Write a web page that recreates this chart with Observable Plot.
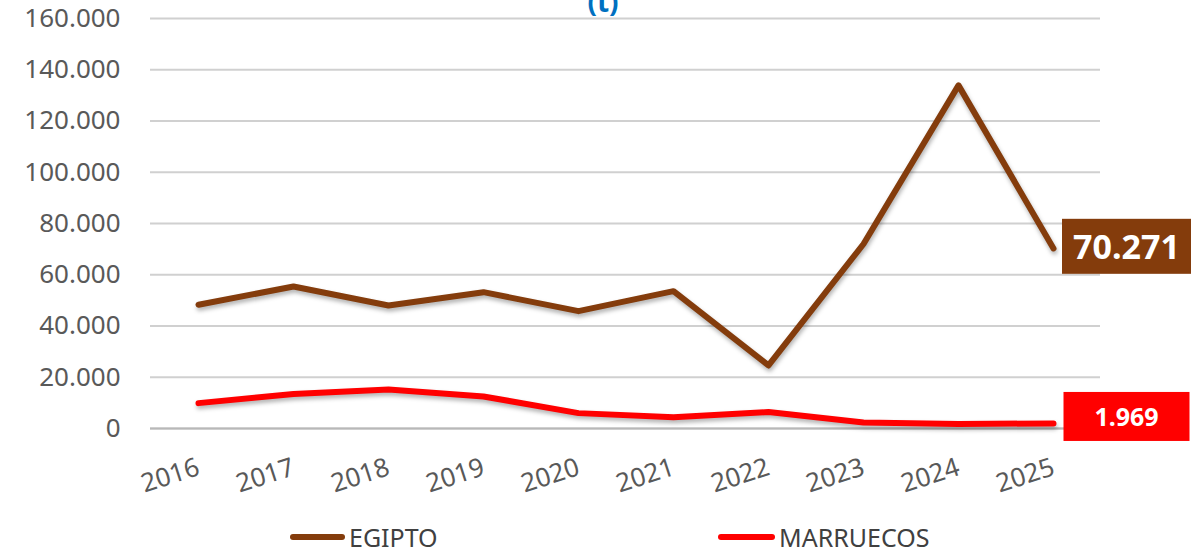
<!DOCTYPE html>
<html>
<head>
<meta charset="utf-8">
<script src="https://cdn.jsdelivr.net/npm/d3@7"></script>
<script src="https://cdn.jsdelivr.net/npm/@observablehq/plot@0.6"></script>
<style>
  html, body { margin: 0; padding: 0; background: #fff; width: 1204px; height: 552px; overflow: hidden; font-family: "Noto Sans", sans-serif; }
  #title { position: absolute; top: -13px; left: 0; width: 1206px; text-align: center; color: #0070C0; font-weight: bold; font-size: 28px; line-height: 28px; z-index: 2; }
  #chart { position: absolute; top: 0; left: 0; }
  #chart svg { background: transparent !important; }
  #legend { position: absolute; top: 520px; left: 0; width: 1204px; height: 32px; font-size: 25px; color: #404040; }
  .item { position: absolute; top: 0; display: flex; align-items: center; height: 34px; }
  .sw { height: 6px; border-radius: 3px; margin-right: 4px; }
  g[aria-label="line"] path { filter: drop-shadow(1px 3px 2px rgba(0,0,0,0.3)); }
</style>
</head>
<body>
<div id="title">(t)</div>
<div id="chart"></div>
<div id="legend"></div>
<script>
const years = ["2016","2017","2018","2019","2020","2021","2022","2023","2024","2025"];
const egipto = [48300, 55400, 48000, 53200, 45800, 53600, 24600, 72000, 133900, 70271];
const marruecos = [9900, 13500, 15200, 12500, 6000, 4400, 6400, 2300, 1800, 1969];
const seriesNames = ["EGIPTO", "MARRUECOS"];
const seriesColors = ["#843C0C", "#FF0000"];
const yTicks = [0, 20000, 40000, 60000, 80000, 100000, 120000, 140000, 160000];

const locale = d3.formatLocale({decimal: ",", thousands: ".", grouping: [3], currency: ["", " €"]});
const fmt = locale.format(",d");

const rows = [];
years.forEach((yr, i) => {
  rows.push({year: yr, value: egipto[i], serie: seriesNames[0]});
  rows.push({year: yr, value: marruecos[i], serie: seriesNames[1]});
});
const lastEg = [{year: years[years.length-1], value: egipto[egipto.length-1]}];
const lastMa = [{year: years[years.length-1], value: marruecos[marruecos.length-1]}];

const chart = Plot.plot({
  width: 1204,
  height: 510,
  marginLeft: 150,
  marginRight: 104,
  marginTop: 18,
  marginBottom: 82,
  style: {fontFamily: "Noto Sans, sans-serif", background: "transparent"},
  x: {type: "point", domain: years, padding: 0.5},
  y: {domain: [0, 160000]},
  color: {domain: seriesNames, range: seriesColors},
  marks: [
    Plot.gridY(yTicks, {stroke: "#d0d0d0", strokeOpacity: 1, strokeWidth: 2}),
    Plot.ruleY([0], {stroke: "#b8b8b8", strokeWidth: 2}),
    Plot.axisY(yTicks, {tickSize: 0, tickPadding: 30, tickFormat: fmt, fontSize: 26, fill: "#595959", label: null}),
    Plot.axisX({tickSize: 0, tickPadding: 38, tickRotate: -18, textAnchor: "end", fontSize: 26, fill: "#595959", label: null}),
    Plot.line(rows, {x: "year", y: "value", z: "serie", stroke: "serie", strokeWidth: 6, strokeLinecap: "round", strokeLinejoin: "round"}),
    Plot.text(lastEg, {x: "year", y: "value", text: d => fmt(d.value), dx: 73, dy: 0, fill: "white", fontWeight: "bold", fontSize: 34, textAnchor: "middle"}),
    Plot.text(lastMa, {x: "year", y: "value", text: d => fmt(d.value), dx: 73, dy: -5, fill: "white", fontWeight: "bold", fontSize: 25, textAnchor: "middle"})
  ]
});
document.getElementById("chart").appendChild(chart);

// label boxes behind the end labels
const boxSpecs = [{w: 129, h: 55, fill: seriesColors[0]}, {w: 126, h: 49, fill: seriesColors[1]}];
chart.querySelectorAll('g[aria-label="text"]').forEach((g, gi) => {
  const spec = boxSpecs[gi];
  g.querySelectorAll("text").forEach(t => {
    const bb = t.getBBox();
    const r = document.createElementNS("http://www.w3.org/2000/svg", "rect");
    r.setAttribute("x", bb.x + bb.width / 2 - spec.w / 2);
    r.setAttribute("y", bb.y + bb.height / 2 - spec.h / 2);
    r.setAttribute("width", spec.w);
    r.setAttribute("height", spec.h);
    r.setAttribute("fill", spec.fill);
    if (t.getAttribute("transform")) r.setAttribute("transform", t.getAttribute("transform"));
    g.insertBefore(r, t);
  });
});

// legend
const legend = document.getElementById("legend");
const legendPos = [{left: 290, sw: 55}, {left: 718, sw: 57}];
seriesNames.forEach((name, i) => {
  const item = document.createElement("div");
  item.className = "item";
  item.style.left = legendPos[i].left + "px";
  const sw = document.createElement("div");
  sw.className = "sw";
  sw.style.width = legendPos[i].sw + "px";
  sw.style.background = seriesColors[i];
  const lab = document.createElement("span");
  lab.textContent = name;
  item.appendChild(sw);
  item.appendChild(lab);
  legend.appendChild(item);
});
</script>
</body>
</html>
